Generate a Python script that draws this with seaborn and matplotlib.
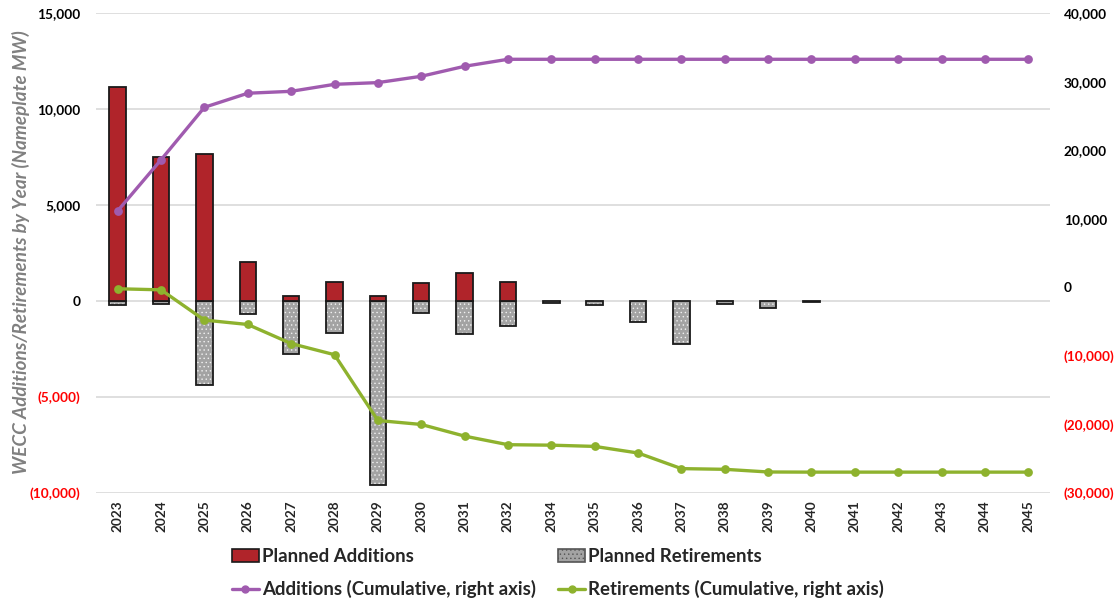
import numpy as np
import pandas as pd
import matplotlib
matplotlib.use("Agg")
import matplotlib.pyplot as plt
import seaborn as sns
from matplotlib.patches import Patch
from matplotlib.lines import Line2D

years = ["2023", "2024", "2025", "2026", "2027", "2028", "2029", "2030", "2031", "2032",
         "2034", "2035", "2036", "2037", "2038", "2039", "2040", "2041", "2042", "2043",
         "2044", "2045"]
planned_additions = [11150, 7500, 7640, 2015, 275, 990, 245, 940, 1440, 990,
                     0, 0, 0, 0, 0, 0, 0, 0, 0, 0, 0, 0]
planned_retirements = [-210, -160, -4375, -695, -2745, -1667, -9583, -625, -1735, -1320,
                       -85, -210, -1075, -2260, -140, -380, -70, 0, 0, 0, 0, 0]
cum_additions = [11150, 18600, 26250, 28300, 28580, 29600, 29850, 30770, 32230, 33250,
                 33250, 33250, 33250, 33250, 33250, 33250, 33250, 33250, 33250, 33250,
                 33250, 33250]
cum_retirements = [-210, -370, -4780, -5420, -8200, -9830, -19420, -20000, -21700, -22950,
                   -23020, -23200, -24160, -26440, -26540, -26930, -26950, -26950, -26950,
                   -26950, -26950, -26950]
left_ticks = [-10000, -5000, 0, 5000, 10000, 15000]
right_ticks = [-30000, -20000, -10000, 0, 10000, 20000, 30000, 40000]

RED = "#B0242A"
GREY = "#A3A3A3"
PURPLE = "#A05BAF"
GREEN = "#8EB22E"

sns.set_theme(style="white")
plt.rcParams["font.family"] = ["Lato", "DejaVu Sans"]
plt.rcParams["hatch.linewidth"] = 0.5

df = pd.DataFrame({"year": years, "add": planned_additions, "ret": planned_retirements,
                   "cadd": cum_additions, "cret": cum_retirements})

fig = plt.figure(figsize=(11.15, 6.02), dpi=100)
ax = fig.add_axes([0.0861, 0.181, 0.8556, 0.7974])

ax.set_ylim(-10000, 15000)
ax.set_yticks(left_ticks)
ax.grid(axis="y", color="#D9D9D9", linewidth=1.2)
ax.set_axisbelow(True)

W = 0.38
sns.barplot(data=df, x="year", y="ret", order=years, color=GREY, width=W,
            saturation=1, ax=ax, errorbar=None, zorder=2)
for p in list(ax.patches):
    p.set_hatch("....")
    p.set_edgecolor("#F0F0F0")
    p.set_linewidth(0)
n0 = len(ax.patches)
sns.barplot(data=df, x="year", y="ret", order=years, fill=False, width=W,
            ax=ax, errorbar=None, zorder=3)
for p, v in zip(ax.patches[n0:], planned_retirements):
    p.set_facecolor("none")
    p.set_edgecolor("#1a1a1a")
    p.set_linewidth(1.3 if v != 0 else 0)
n1 = len(ax.patches)
sns.barplot(data=df, x="year", y="add", order=years, color=RED, width=W,
            saturation=1, ax=ax, errorbar=None, zorder=3)
for p, v in zip(ax.patches[n1:], planned_additions):
    p.set_edgecolor("#1a1a1a")
    p.set_linewidth(1.3 if v != 0 else 0)

ax.set_xlim(-0.5, len(years) - 0.5)
ax.set_xlabel("")
ax.set_ylabel("WECC Additions/Retirements by Year (Nameplate MW)", color="#808080",
              fontsize=13.6, fontweight="bold", style="italic")
ax.yaxis.set_label_coords(-0.069, 0.502)
ax.set_xticks(range(len(years)))
ax.set_xticklabels(years, rotation=90, fontsize=9.8, fontweight="bold")
ax.tick_params(axis="x", length=0, pad=5)
ax.tick_params(axis="y", length=0, pad=11)

def fmt(v):
    return f"({abs(v):,})" if v < 0 else f"{v:,}"

ax.set_yticklabels([fmt(v) for v in left_ticks], fontsize=9.8, fontweight="bold")
for lbl, v in zip(ax.get_yticklabels(), left_ticks):
    lbl.set_color("red" if v < 0 else "black")

for s in ax.spines.values():
    s.set_visible(False)

ax2 = ax.twinx()
sns.pointplot(data=df, x="year", y="cadd", order=years, color=PURPLE, ax=ax2,
              markers="o", linewidth=2.4, markersize=4.5, errorbar=None)
sns.pointplot(data=df, x="year", y="cret", order=years, color=GREEN, ax=ax2,
              markers="o", linewidth=2.4, markersize=4.5, errorbar=None)
ax2.set_ylim(-30000, 40000)
ax2.set_yticks(right_ticks)
ax2.set_yticklabels([fmt(v) for v in right_ticks], fontsize=9.8, fontweight="bold")
for lbl, v in zip(ax2.get_yticklabels(), right_ticks):
    lbl.set_color("red" if v < 0 else "black")
ax2.set_xlim(-0.5, len(years) - 0.5)
ax2.set_ylabel("")
ax2.set_xlabel("")
ax2.grid(False)
ax2.tick_params(axis="y", length=0, pad=10)
for s in ax2.spines.values():
    s.set_visible(False)

handles = [
    Patch(facecolor=RED, edgecolor="#1a1a1a", linewidth=1.2),
    Line2D([0], [0], color=PURPLE, linewidth=2.4, marker="o", markersize=5),
    Patch(facecolor=GREY, edgecolor="#555555", hatch="....", linewidth=1.2),
    Line2D([0], [0], color=GREEN, linewidth=2.4, marker="o", markersize=5),
]
labels = ["Planned Additions", "Additions (Cumulative, right axis)",
          "Planned Retirements", "Retirements (Cumulative, right axis)"]
fig.legend(handles, labels, ncol=2, loc="center", bbox_to_anchor=(0.5004, 1 - 573 / 602),
           frameon=False, prop={"size": 13.4, "weight": "bold"}, handlelength=1.45,
           handleheight=0.65, handletextpad=0.16, columnspacing=1.2, labelspacing=0.8,
           borderpad=0)

fig.savefig("out.png", dpi=100)
